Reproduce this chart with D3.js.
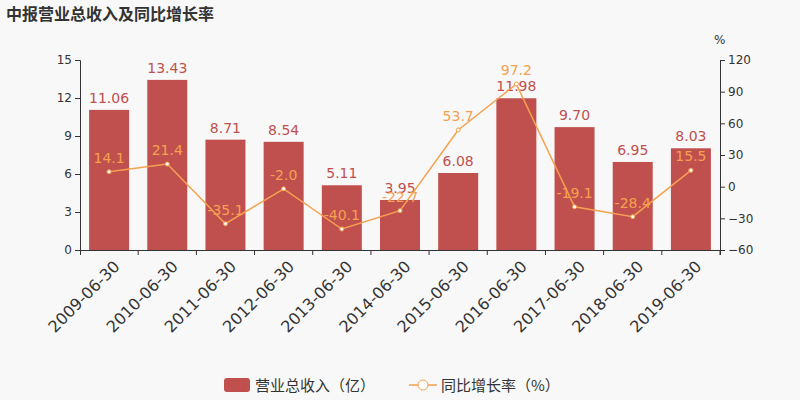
<!DOCTYPE html>
<html><head><meta charset="utf-8">
<script src="https://cdn.jsdelivr.net/npm/d3@7"></script>
<style>body{margin:0;background:#f8f8f8}svg{display:block;font-family:"DejaVu Sans","Noto Sans CJK SC",sans-serif}</style>
</head><body><svg id="c" width="800" height="400"></svg>
<script>
const categories=["2009-06-30","2010-06-30","2011-06-30","2012-06-30","2013-06-30","2014-06-30","2015-06-30","2016-06-30","2017-06-30","2018-06-30","2019-06-30"];
const revenue=[11.06,13.43,8.71,8.54,5.11,3.95,6.08,11.98,9.70,6.95,8.03];
const growth=[14.1,21.4,-35.1,-2.0,-40.1,-22.7,53.7,97.2,-19.1,-28.4,15.5];
const leftTicks=[0,3,6,9,12,15];
const rightTicks=[-60,-30,0,30,60,90,120];
const barColor="#c0504e", lineColor="#f5a14f";
const svg=d3.select("#c");
svg.append("rect").attr("width",800).attr("height",400).attr("fill","#f8f8f8");
const L=80,R=720,T=60,B=250;
const x=d3.scaleBand().domain(categories).range([L,R]);
const y=d3.scaleLinear().domain([0,15]).range([B,T]);
const y2=d3.scaleLinear().domain([-60,120]).range([B,T]);
svg.append("text").attr("x",6).attr("y",20).text("中报营业总收入及同比增长率").attr("font-size",16).attr("font-weight","bold").attr("fill","#333").attr("font-family","Noto Sans CJK SC");
svg.append("text").attr("x",714).attr("y",44).text("%").attr("font-size",12).attr("fill","#333");
const gl=svg.append("g").attr("transform",`translate(${L},0)`).call(d3.axisLeft(y).tickValues(leftTicks).tickSize(5));
const gr=svg.append("g").attr("transform",`translate(${R},0)`).call(d3.axisRight(y2).tickValues(rightTicks).tickSize(5));
const gx=svg.append("g").attr("transform",`translate(0,${B})`).call(d3.axisBottom(x).tickSize(5));
[gl,gr,gx].forEach(g=>{g.selectAll("path,line").attr("stroke","#333");g.selectAll("text").attr("fill","#333").attr("font-size",12).attr("font-family","DejaVu Sans")});
gx.selectAll(".tick line").attr("transform",`translate(${x.bandwidth()/2},0)`);
gx.selectAll("text").attr("font-size",16).attr("text-anchor","end").attr("dx",0).attr("dy",0).attr("transform","translate(6,12) rotate(-45)");
const bw=40;
svg.selectAll(".bar").data(revenue).join("rect").attr("x",(d,i)=>x(categories[i])+x.bandwidth()/2-bw/2).attr("width",bw)
 .attr("y",d=>y(d)).attr("height",d=>B-y(d)).attr("fill",barColor);
svg.selectAll(".bl").data(revenue).join("text").attr("x",(d,i)=>x(categories[i])+x.bandwidth()/2).attr("y",d=>y(d)-7)
 .attr("text-anchor","middle").attr("font-size",14).attr("fill",barColor).text(d=>d.toFixed(2));
const cx=i=>x(categories[i])+x.bandwidth()/2;
svg.append("path").datum(growth).attr("fill","none").attr("stroke",lineColor).attr("stroke-width",1.5)
 .attr("d",d3.line().x((d,i)=>cx(i)).y(d=>y2(d)));
svg.selectAll(".pt").data(growth).join("circle").attr("cx",(d,i)=>cx(i)).attr("cy",d=>y2(d)).attr("r",2).attr("fill","#fff").attr("stroke",lineColor);
svg.selectAll(".ll").data(growth).join("text").attr("x",(d,i)=>cx(i)).attr("y",d=>y2(d)-9)
 .attr("text-anchor","middle").attr("font-size",14).attr("fill",lineColor).text(d=>d.toFixed(1));
const lg=svg.append("g").attr("font-family","Noto Sans CJK SC");
lg.append("rect").attr("x",224).attr("y",378).attr("width",26).attr("height",14).attr("rx",3).attr("fill",barColor);
lg.append("text").attr("x",255).attr("y",391).text("营业总收入（亿）").attr("font-size",15).attr("fill","#333");
lg.append("line").attr("x1",409).attr("x2",437).attr("y1",385).attr("y2",385).attr("stroke",lineColor).attr("stroke-width",1.5);
lg.append("circle").attr("cx",423).attr("cy",385).attr("r",5).attr("fill","#fff").attr("stroke",lineColor);
lg.append("text").attr("x",441).attr("y",391).text("同比增长率（%）").attr("font-size",15).attr("fill","#333");
</script></body></html>
